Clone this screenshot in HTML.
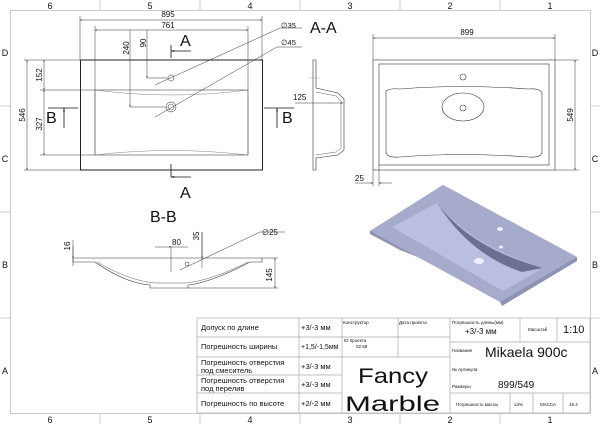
<!DOCTYPE html>
<html><head><meta charset="utf-8"><style>
html,body{margin:0;padding:0;background:#fff;width:600px;height:424px;overflow:hidden}
svg{display:block}
text{font-family:"Liberation Sans",sans-serif;fill:#111}
.t{font-family:"DejaVu Sans","Liberation Sans",sans-serif}
</style></head><body>
<svg width="600" height="424" viewBox="0 0 600 424" xmlns="http://www.w3.org/2000/svg">
<defs>
<marker id="ar" viewBox="0 0 10 10" refX="10" refY="5" markerWidth="6" markerHeight="4" orient="auto-start-reverse"><path d="M0,2 L10,5 L0,8z" fill="#222"/></marker>
</defs>
<!-- frame -->
<g stroke="#ccc" stroke-width="1" fill="none">
<rect x="10.5" y="10.5" width="580" height="403"/>
<line x1="100" y1="0" x2="100" y2="10"/><line x1="200" y1="0" x2="200" y2="10"/><line x1="300" y1="0" x2="300" y2="10"/><line x1="400" y1="0" x2="400" y2="10"/><line x1="500" y1="0" x2="500" y2="10"/>
<line x1="100" y1="414" x2="100" y2="424"/><line x1="200" y1="414" x2="200" y2="424"/><line x1="300" y1="414" x2="300" y2="424"/><line x1="400" y1="414" x2="400" y2="424"/><line x1="500" y1="414" x2="500" y2="424"/>
<line x1="0" y1="106" x2="10" y2="106"/><line x1="0" y1="212" x2="10" y2="212"/><line x1="0" y1="318" x2="10" y2="318"/>
<line x1="591" y1="106" x2="600" y2="106"/><line x1="591" y1="212" x2="600" y2="212"/><line x1="591" y1="318" x2="600" y2="318"/>
</g>
<g font-size="9" text-anchor="middle">
<text x="50" y="9">6</text><text x="150" y="9">5</text><text x="250" y="9">4</text><text x="350" y="9">3</text><text x="450" y="9">2</text><text x="550" y="9">1</text>
<text x="50" y="423">6</text><text x="150" y="423">5</text><text x="250" y="423">4</text><text x="350" y="423">3</text><text x="450" y="423">2</text><text x="550" y="423">1</text>
<text x="5" y="56">D</text><text x="5" y="162">C</text><text x="5" y="268">B</text><text x="5" y="374">A</text>
<text x="595" y="56">D</text><text x="595" y="162">C</text><text x="595" y="268">B</text><text x="595" y="374">A</text>
</g>

<!-- top view -->
<g stroke="#222" fill="none" stroke-width="0.8">
<rect x="80.5" y="60" width="182" height="110" stroke-width="1"/>
<path d="M95,90 L248,90 L248,155 L95,155 Z" stroke-width="0.6"/>
<path d="M95,90 Q171,100 248,90" stroke-width="0.4" stroke="#666"/>
<path d="M95,155 Q171,146 248,155" stroke-width="0.4" stroke="#666"/>
<circle cx="171" cy="78" r="3" stroke-width="0.5"/>
<circle cx="171" cy="107" r="5" stroke-width="0.5"/><circle cx="171" cy="107" r="3" stroke-width="0.5"/>
</g>
<g stroke="#333" stroke-width="0.5" fill="none">
<line x1="80" y1="16" x2="80" y2="60"/><line x1="262" y1="16" x2="262" y2="60"/>
<line x1="80" y1="20" x2="262" y2="20" marker-start="url(#ar)" marker-end="url(#ar)"/>
<line x1="95" y1="26" x2="95" y2="90"/><line x1="248" y1="26" x2="248" y2="90"/>
<line x1="95" y1="30" x2="248" y2="30" marker-start="url(#ar)" marker-end="url(#ar)"/>
<line x1="130" y1="30" x2="130" y2="107" marker-end="url(#ar)"/><line x1="130" y1="107" x2="166" y2="107"/>
<line x1="147" y1="30" x2="147" y2="78" marker-end="url(#ar)"/><line x1="147" y1="78" x2="168" y2="78"/>
<line x1="24" y1="60" x2="80" y2="60"/><line x1="24" y1="170" x2="80" y2="170"/>
<line x1="27" y1="60" x2="27" y2="170" marker-start="url(#ar)" marker-end="url(#ar)"/>
<line x1="40" y1="90" x2="95" y2="90"/><line x1="40" y1="155" x2="95" y2="155"/>
<line x1="44" y1="60" x2="44" y2="90" marker-start="url(#ar)" marker-end="url(#ar)"/>
<line x1="44" y1="90" x2="44" y2="155" marker-start="url(#ar)" marker-end="url(#ar)"/>
<line x1="155" y1="85" x2="280" y2="28"/><line x1="280" y1="28" x2="302" y2="28"/>
<line x1="155" y1="117" x2="277" y2="47"/><line x1="277" y1="47" x2="302" y2="47"/>
</g>
<g stroke="#111" stroke-width="0.8" fill="none">
<line x1="171" y1="45" x2="171" y2="58"/><line x1="171" y1="51" x2="191" y2="51" marker-start="url(#ar)"/>
<line x1="171" y1="164" x2="171" y2="177"/><line x1="171" y1="177" x2="191" y2="177" marker-start="url(#ar)"/>
<line x1="48" y1="108" x2="78" y2="108"/><line x1="64" y1="108" x2="64" y2="128" marker-start="url(#ar)"/>
<line x1="264" y1="108" x2="294" y2="108"/><line x1="277" y1="108" x2="277" y2="128" marker-start="url(#ar)"/>
</g>
<g font-size="8">
<text x="168" y="17" text-anchor="middle">895</text>
<text x="168" y="28" text-anchor="middle">761</text>
<text x="281" y="28" font-size="7.5">∅35</text><text x="281" y="45" font-size="7.5">∅45</text>
<text transform="translate(129,48) rotate(-90)" text-anchor="middle">240</text>
<text transform="translate(146,43) rotate(-90)" text-anchor="middle">90</text>
<text transform="translate(25,115) rotate(-90)" text-anchor="middle">546</text>
<text transform="translate(42,75) rotate(-90)" text-anchor="middle">152</text>
<text transform="translate(42,124) rotate(-90)" text-anchor="middle">327</text>
</g>
<g font-size="16"><text x="180" y="46">A</text><text x="180" y="198">A</text><text x="46" y="123">B</text><text x="282" y="123">B</text><text x="310" y="33">A-A</text></g>

<!-- A-A section -->
<g stroke="#333" stroke-width="0.6" fill="none">
<path d="M313,60 L316,60 L316,88 L338,93 L344,99 L344,150 L338,155 L316,158 L316,170 L313,170 Z"/>
<path d="M316,92 L336,96 L341,101 L341,148 L336,152 L316,155" stroke-width="0.4"/>
<line x1="295" y1="103" x2="343" y2="103" marker-end="url(#ar)" stroke-width="0.5"/>
<line x1="308" y1="78" x2="320" y2="78" stroke="#999" stroke-width="0.4"/>
</g>
<text x="293" y="100" font-size="8">125</text>

<!-- right view -->
<g stroke="#333" fill="none" stroke-width="0.6">
<rect x="373" y="60" width="182" height="110"/>
<rect x="379" y="64" width="170" height="101"/>
<path d="M386,91 Q390,88 400,89 Q463,84 528,89 Q540,88 542,93 L542,153 Q540,158 528,157 Q463,152 400,157 Q388,158 386,153 Z"/>
<ellipse cx="463" cy="107" rx="21" ry="14"/>
<circle cx="463" cy="77" r="3"/><circle cx="463" cy="108" r="3"/>
</g>
<g stroke="#333" stroke-width="0.5" fill="none">
<line x1="373" y1="34" x2="373" y2="60"/><line x1="555" y1="34" x2="555" y2="60"/>
<line x1="373" y1="38" x2="555" y2="38" marker-start="url(#ar)" marker-end="url(#ar)"/>
<line x1="555" y1="60" x2="579" y2="60"/><line x1="555" y1="170" x2="579" y2="170"/>
<line x1="575" y1="60" x2="575" y2="170" marker-start="url(#ar)" marker-end="url(#ar)"/>
<line x1="373" y1="170" x2="373" y2="186"/><line x1="379" y1="165" x2="379" y2="186"/>
<line x1="355" y1="183" x2="373" y2="183" marker-end="url(#ar)"/><line x1="379" y1="183" x2="392" y2="183" marker-start="url(#ar)"/>
</g>
<text x="467" y="35" font-size="8" text-anchor="middle">899</text>
<text transform="translate(573,115) rotate(-90)" font-size="8" text-anchor="middle">549</text>
<text x="355" y="181" font-size="8">25</text>

<!-- 3D -->
<g>
<path d="M370,231 L443,185 L577,257 L577,261 L502,306 L500,302 Q470,280 455,272 Q420,258 400,250 L370,234 Z" fill="#8e92b2"/>
<path d="M370,231 L443,185 L577,257 L500,302 Z" fill="#a6aacb"/>
<path d="M392,227 L437,203 Q470,245 543,268 L503,291 Z" fill="#bbbfdf"/>
<path d="M437,203 Q470,248 543,268 L522,272 Q470,255 437,203Z" fill="#6c7090"/>
<ellipse cx="479" cy="261" rx="5" ry="3" fill="#eef"/><ellipse cx="500" cy="229" rx="3" ry="2" fill="#eef"/><ellipse cx="501" cy="247" rx="2" ry="1.5" fill="#eef"/>
</g>

<!-- B-B -->
<text x="150" y="222" font-size="16">B-B</text>
<g stroke="#333" fill="none" stroke-width="0.6">
<path d="M73,258 L262,258 L262,262 L250,262 Q210,283 188,285 L188,288 L150,288 L150,285 Q125,283 95,262 L73,262 Z"/>
<path d="M97,262 Q130,281 155,283 L185,283 Q210,281 248,262" stroke-width="0.4"/>
<circle cx="187" cy="264" r="2" stroke-width="0.5"/>
</g>
<g stroke="#333" stroke-width="0.5" fill="none">
<line x1="73" y1="240" x2="73" y2="266"/>
<line x1="73" y1="246" x2="73" y2="258" marker-end="url(#ar)"/>
<line x1="171" y1="246" x2="171" y2="272"/><line x1="202" y1="232" x2="202" y2="268"/>
<line x1="155" y1="247" x2="171" y2="247" marker-end="url(#ar)"/><line x1="171" y1="247" x2="188" y2="247"/>
<line x1="202" y1="232" x2="202" y2="258" marker-end="url(#ar)"/>
<line x1="262" y1="258" x2="278" y2="258"/><line x1="188" y1="288" x2="278" y2="288"/>
<line x1="275" y1="258" x2="275" y2="288" marker-start="url(#ar)" marker-end="url(#ar)"/>
<line x1="180" y1="270" x2="260" y2="232"/><line x1="260" y1="232" x2="285" y2="232"/>
</g>
<g font-size="8"><text x="172" y="245">80</text><text x="262" y="235">∅25</text>
<text transform="translate(70,246) rotate(-90)" text-anchor="middle">16</text>
<text transform="translate(199,236) rotate(-90)" text-anchor="middle">35</text>
<text transform="translate(272,275) rotate(-90)" text-anchor="middle">145</text></g>

<!-- title block -->
<g stroke="#aaa" stroke-width="0.7" fill="none">
<rect x="197" y="318" width="393" height="95"/>
<line x1="299" y1="318" x2="299" y2="413"/><line x1="342" y1="318" x2="342" y2="413"/>
<line x1="197" y1="337" x2="342" y2="337"/><line x1="197" y1="357" x2="450" y2="357"/><line x1="197" y1="375" x2="342" y2="375"/><line x1="197" y1="393" x2="342" y2="393"/>
<line x1="342" y1="337" x2="450" y2="337"/><line x1="398" y1="318" x2="398" y2="357"/>
<line x1="450" y1="318" x2="450" y2="413"/>
<line x1="520" y1="318" x2="520" y2="342"/><line x1="557" y1="318" x2="557" y2="342"/>
<line x1="450" y1="342" x2="590" y2="342"/><line x1="450" y1="393" x2="590" y2="393"/>
<line x1="510" y1="393" x2="510" y2="413"/><line x1="533" y1="393" x2="533" y2="413"/><line x1="563" y1="393" x2="563" y2="413"/>
</g>
<g class="t" font-size="7.5">
<text x="201" y="330">Допуск по длине</text><text x="301" y="330">+3/-3 мм</text>
<text x="201" y="349">Погрешность ширины</text><text x="301" y="349" font-size="7">+1,5/-1,5мм</text>
<text x="201" y="365">Погрешность отверстия</text><text x="201" y="373">под смеситель</text><text x="301" y="369">+3/-3 мм</text>
<text x="201" y="383">Погрешность отверстия</text><text x="201" y="391">под перелив</text><text x="301" y="387">+3/-3 мм</text>
<text x="201" y="406">Погрешность по высоте</text><text x="301" y="406">+2/-2 мм</text>
<g font-size="4.5"><text x="343" y="324">Конструктор</text><text x="399" y="324">Дата проекта</text><text x="344" y="342">ID проекта</text><text x="356" y="348">02.68</text>
<text x="452" y="324">Погрешность длины(мм)</text><text x="528" y="331">Масштаб</text><text x="452" y="352">Название</text><text x="452" y="371">№ Артикула</text><text x="452" y="388">Размеры</text>
<text x="456" y="406">Погрешность массы</text><text x="514" y="406">±3%</text><text x="540" y="406">МАССА</text><text x="569" y="406">19.4</text></g>
<text x="465" y="334" font-size="8">+3/-3 мм</text>
<text x="563" y="333" font-size="11">1:10</text>
<text x="485" y="357" font-size="14">Mikaela 900c</text>
<text x="498" y="388" font-size="10">899/549</text>
</g>
<text x="358" y="383" font-size="21" textLength="70" lengthAdjust="spacingAndGlyphs" font-family="DejaVu Sans" font-weight="normal">Fancy</text>
<text x="345" y="411" font-size="21" textLength="95" lengthAdjust="spacingAndGlyphs" font-family="DejaVu Sans">Marble</text>
</svg>
</body></html>
